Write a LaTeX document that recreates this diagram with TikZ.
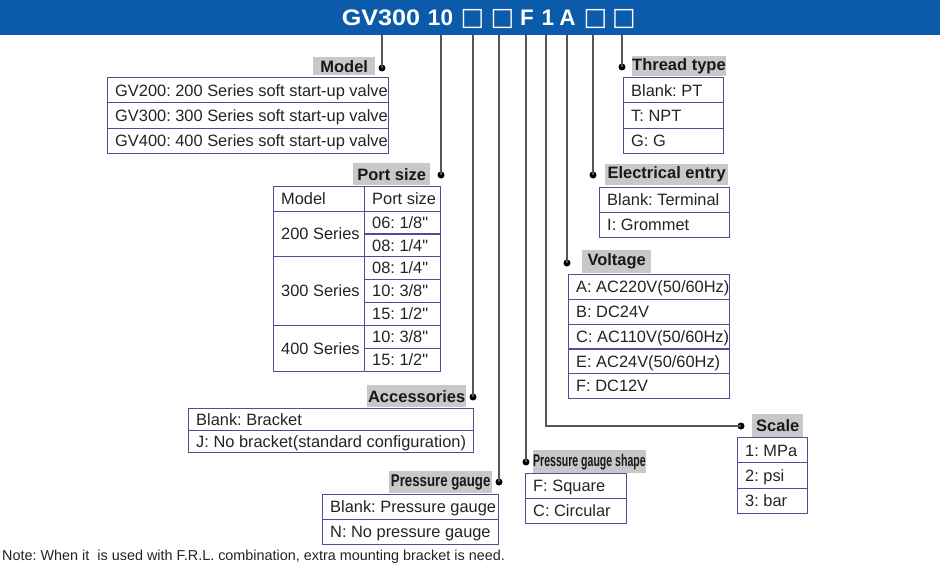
\documentclass[tikz,border=0pt]{standalone}
\usepackage{fontspec}
\setmainfont{Liberation Sans}
\newfontfamily\symfont{DejaVu Sans}
\newfontfamily\widefont[FakeStretch=1.12]{Liberation Sans}
\newfontfamily\narrowA[FakeStretch=0.78]{Liberation Sans}
\newfontfamily\narrowB[FakeStretch=0.62]{Liberation Sans}
\definecolor{hdrblue}{RGB}{12,90,170}
\definecolor{lblgray}{RGB}{200,200,200}
\definecolor{tbl}{RGB}{82,76,150}
\definecolor{lncol}{RGB}{85,85,85}
\definecolor{txt}{RGB}{35,35,35}
\definecolor{lbltext}{RGB}{25,25,25}
\newcommand\qt{\XeTeXglyph\XeTeXglyphindex "quotedbl"\relax}
\newcommand\trow[6]{%
  \node[row, minimum width=#4, minimum height=#5] (#1) at (#2,#3) {};
  \node[rowtxt] (#1t) at ([xshift=8pt,yshift=-5.8pt]#1.west) {#6};}
\frenchspacing
\begin{document}
\frenchspacing
\begin{tikzpicture}[x=1pt,y=-1pt,
  lbl/.style={fill=lblgray, text=lbltext, font=\bfseries\fontsize{16.5}{18}\selectfont, inner sep=0pt, anchor=north west},
  row/.style={draw=tbl, line width=1.1pt, inner sep=0pt, anchor=north west},
  rowtxt/.style={anchor=base west, inner sep=0pt, text=txt, font=\frenchspacing\fontsize{16.4}{18}\selectfont},
  dotn/.style={circle, fill=black, inner sep=0pt, minimum size=7pt},
  conn/.style={draw=lncol, line width=1.4pt},
  tok/.style={text=white, font=\bfseries\fontsize{22.5}{24}\selectfont, anchor=base, inner sep=0pt},
  sq/.style={text=white, font=\symfont\fontsize{25}{28}\selectfont, anchor=base, inner sep=0pt}]
\useasboundingbox (0,0) rectangle (940,572);
% header band
\node[fill=hdrblue, minimum width=940, minimum height=35, inner sep=0pt, anchor=north west] (band) at (0,0) {};
\node[tok] (tGV) at (381,25.5) {\widefont\bfseries GV300};
\node[tok] (t10) at (440.5,25.5) {10};
\node[sq] (tB1) at (472.5,25.5) {□};
\node[sq] (tB2) at (502.5,25.5) {□};
\node[tok] (tF) at (527,25.5) {F};
\node[tok] (t1) at (548,25.5) {1};
\node[tok] (tA) at (567.5,25.5) {A};
\node[sq] (tB3) at (595.5,25.5) {□};
\node[sq] (tB4) at (624,25.5) {□};
% dots
\node[dotn] (dModel) at (382,68) {};
\node[dotn] (dPort) at (441,175) {};
\node[dotn] (dAcc) at (473,397) {};
\node[dotn] (dPG) at (499,482) {};
\node[dotn] (dPGS) at (526,462) {};
\node[dotn] (dScale) at (741,426) {};
\node[dotn] (dVolt) at (567,263) {};
\node[dotn] (dElec) at (593,175) {};
\node[dotn] (dThread) at (622,67) {};
\coordinate (sTop) at (546,35);
% connectors
\foreach \d in {dModel,dPort,dAcc,dPG,dPGS,dVolt,dElec,dThread}
  \draw[conn] (\d |- band.south) -- (\d.center);
\draw[conn] (sTop) |- (dScale.center);
% Model
\node[lbl, minimum width=62, minimum height=18] (lModel) at (313,57) {Model};
\trow{m1}{107}{77}{281}{25.33}{GV200: 200 Series soft start-up valve}
\trow{m2}{107}{102.33}{281}{25.33}{GV300: 300 Series soft start-up valve}
\trow{m3}{107}{127.67}{281}{25.33}{GV400: 400 Series soft start-up valve}
% Port size
\node[lbl, minimum width=77, minimum height=22] (lPort) at (353,163) {Port size};
\trow{p0a}{273}{186}{91}{25}{Model}
\trow{p0b}{364}{186}{76}{25}{Port size}
\trow{p1}{273}{211}{91}{45}{200 Series}
\trow{p1a}{364}{211}{76}{22.5}{06: 1/8\qt}
\trow{p1b}{364}{233.5}{76}{22.5}{08: 1/4\qt}
\trow{p2}{273}{256}{91}{69}{300 Series}
\trow{p2a}{364}{256}{76}{23}{08: 1/4\qt}
\trow{p2b}{364}{279}{76}{23}{10: 3/8\qt}
\trow{p2c}{364}{302}{76}{23}{15: 1/2\qt}
\trow{p3}{273}{325}{91}{46}{400 Series}
\trow{p3a}{364}{325}{76}{23}{10: 3/8\qt}
\trow{p3b}{364}{348}{76}{23}{15: 1/2\qt}
% Accessories
\node[lbl, minimum width=99, minimum height=22] (lAcc) at (367,385) {Accessories};
\trow{a1}{188}{408}{285}{22}{Blank: Bracket}
\trow{a2}{188}{430}{285}{22}{J: No bracket(standard configuration)}
% Pressure gauge
\node[lbl, minimum width=103, minimum height=22, font=\narrowA\bfseries\fontsize{17}{18}\selectfont] (lPG) at (389,471) {Pressure gauge};
\trow{g1}{322}{494}{176}{25}{Blank: Pressure gauge}
\trow{g2}{322}{519}{176}{25}{N: No pressure gauge}
% Pressure gauge shape
\node[lbl, minimum width=110, minimum height=23, font=\narrowB\bfseries\fontsize{17}{18}\selectfont] (lPGS) at (533,450) {Pressure gauge shape};
\trow{s1}{525}{473}{101}{25}{F: Square}
\trow{s2}{525}{498}{101}{25}{C: Circular}
% Thread type
\node[lbl, minimum width=91, minimum height=20] (lThread) at (632,56) {Thread type};
\trow{r1}{623}{77}{100}{25.33}{Blank: PT}
\trow{r2}{623}{102.33}{100}{25.33}{T: NPT}
\trow{r3}{623}{127.67}{100}{25.33}{G: G}
% Electrical entry
\node[lbl, minimum width=123, minimum height=21] (lElec) at (605,164) {Electrical entry};
\trow{e1}{599}{187}{130}{25}{Blank: Terminal}
\trow{e2}{599}{212}{130}{25}{I: Grommet}
% Voltage
\node[lbl, minimum width=69, minimum height=23] (lVolt) at (582,250) {Voltage};
\trow{v1}{568}{274}{161}{24.8}{A: AC220V(50/60Hz)}
\trow{v2}{568}{298.8}{161}{24.8}{B: DC24V}
\trow{v3}{568}{323.6}{161}{24.8}{C: AC110V(50/60Hz)}
\trow{v4}{568}{348.4}{161}{24.8}{E: AC24V(50/60Hz)}
\trow{v5}{568}{373.2}{161}{24.8}{F: DC12V}
% Scale
\node[lbl, minimum width=51, minimum height=23] (lScale) at (752,414) {Scale};
\trow{k1}{737}{437}{70}{25.33}{1: MPa}
\trow{k2}{737}{462.33}{70}{25.33}{2: psi}
\trow{k3}{737}{487.67}{70}{25.33}{3: bar}
% note
\node[anchor=base west, inner sep=0pt, text=txt, font=\frenchspacing\fontsize{14.4}{16}\selectfont] (note) at (2,560) {Note: When it\ \ is used with F.R.L. combination, extra mounting bracket is need.};
\end{tikzpicture}
\end{document}
